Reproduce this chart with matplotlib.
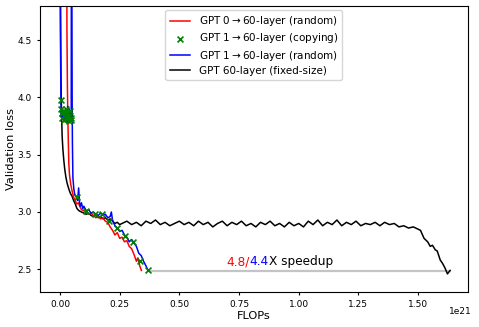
import matplotlib
matplotlib.use("Agg")
import matplotlib.pyplot as plt

# FLOPs (in units of 1e21) and validation loss
black_x = [0.0, 0.002, 0.004, 0.006, 0.009, 0.012, 0.016, 0.02, 0.025, 0.03, 0.037, 0.044,
           0.05, 0.057, 0.064, 0.071, 0.08, 0.09, 0.1, 0.11, 0.12, 0.13, 0.14, 0.15, 0.16,
           0.17, 0.18, 0.19, 0.2, 0.21, 0.22, 0.23, 0.24, 0.25,
           0.26, 0.28, 0.30, 0.32, 0.34, 0.36, 0.38, 0.40, 0.42, 0.44, 0.46, 0.48, 0.50,
           0.52, 0.54, 0.56, 0.58, 0.60, 0.62, 0.64, 0.66, 0.68, 0.70, 0.72, 0.74, 0.76,
           0.78, 0.80, 0.82, 0.84, 0.86, 0.88, 0.90, 0.92, 0.94, 0.96, 0.98, 1.00, 1.02,
           1.04, 1.06, 1.08, 1.10, 1.12, 1.14, 1.16, 1.18, 1.20, 1.22, 1.24, 1.26, 1.28,
           1.30, 1.32, 1.34, 1.36, 1.38, 1.40, 1.42, 1.44, 1.46, 1.48, 1.50, 1.51, 1.525,
           1.54, 1.551, 1.56, 1.572, 1.58, 1.593, 1.603, 1.613, 1.623, 1.634]
black_y = [6.0, 4.8, 4.2, 3.9, 3.66, 3.55, 3.45, 3.37, 3.3, 3.25, 3.2, 3.16,
           3.14, 3.1, 3.07, 3.03, 3.01, 3.0, 2.99, 2.98, 2.99, 2.97, 2.96, 2.97, 2.95,
           2.96, 2.94, 2.95, 2.93, 2.94, 2.92, 2.9, 2.91, 2.89,
           2.90, 2.92, 2.89, 2.91, 2.88, 2.92, 2.90, 2.93, 2.89, 2.91, 2.88, 2.90, 2.92,
           2.89, 2.91, 2.88, 2.92, 2.89, 2.91, 2.87, 2.90, 2.92, 2.88, 2.91, 2.89, 2.92,
           2.88, 2.90, 2.87, 2.91, 2.89, 2.92, 2.88, 2.90, 2.87, 2.91, 2.88, 2.90, 2.87,
           2.92, 2.89, 2.93, 2.88, 2.91, 2.89, 2.93, 2.88, 2.91, 2.89, 2.92, 2.88, 2.90,
           2.89, 2.91, 2.88, 2.91, 2.89, 2.90, 2.87, 2.88, 2.86, 2.87, 2.85, 2.84, 2.77,
           2.74, 2.70, 2.71, 2.67, 2.66, 2.58, 2.55, 2.51, 2.46, 2.49]

red_x = [0.028, 0.029, 0.031, 0.033, 0.035, 0.037, 0.04, 0.045, 0.05, 0.057, 0.064, 0.07,
         0.077, 0.085, 0.09, 0.1, 0.11, 0.12, 0.13, 0.14, 0.15, 0.16, 0.17, 0.18, 0.19,
         0.2, 0.21, 0.22, 0.23, 0.24, 0.25, 0.26, 0.27, 0.28, 0.29, 0.3, 0.31, 0.32,
         0.326, 0.334, 0.341]
red_y = [6.0, 4.6, 4.1, 3.8, 3.6, 3.42, 3.32, 3.24, 3.19, 3.13, 3.1, 3.07,
         3.08, 3.04, 3.02, 3.01, 3.0, 2.98, 2.99, 2.97, 2.95, 2.96, 2.94, 2.95, 2.92,
         2.91, 2.87, 2.84, 2.80, 2.82, 2.77, 2.78, 2.74, 2.75, 2.70, 2.68, 2.63, 2.57,
         2.60, 2.53, 2.49]

blue_x = [0.0, 0.002, 0.004, 0.006, 0.008, 0.011, 0.014, 0.017, 0.02, 0.023, 0.026, 0.029,
          0.032, 0.035, 0.038, 0.041, 0.044, 0.047, 0.048, 0.05, 0.051, 0.052, 0.054, 0.058,
          0.062, 0.066, 0.07, 0.074, 0.078, 0.082, 0.085, 0.09, 0.095, 0.1, 0.11, 0.12,
          0.13, 0.14, 0.15, 0.16, 0.17, 0.18, 0.19, 0.2, 0.21, 0.215, 0.22, 0.23, 0.24,
          0.25, 0.26, 0.27, 0.28, 0.29, 0.3, 0.31, 0.32, 0.33, 0.34, 0.35, 0.36, 0.369]
blue_y = [6.0, 4.5, 3.95, 3.85, 3.9, 3.82, 3.88, 3.8, 3.86, 3.84, 3.9, 3.78,
          3.92, 3.8, 3.9, 3.83, 3.88, 3.8, 6.0, 4.5, 3.9, 3.6, 3.3, 3.2,
          3.15, 3.14, 3.12, 3.1, 3.21, 3.08, 3.05, 3.08, 3.03, 3.05, 3.01, 3.02,
          2.99, 3.0, 2.98, 2.97, 2.99, 2.97, 2.98, 2.95, 2.96, 3.0, 2.93, 2.88, 2.86,
          2.83, 2.84, 2.80, 2.78, 2.74, 2.76, 2.73, 2.70, 2.64, 2.62, 2.57, 2.53, 2.49]

copy_x = [0.003, 0.005, 0.008, 0.010, 0.013, 0.016, 0.018, 0.021, 0.024, 0.027, 0.030,
          0.033, 0.036, 0.039, 0.042, 0.045, 0.048, 0.071, 0.11, 0.147, 0.178, 0.207,
          0.239, 0.272, 0.306, 0.337, 0.369]
copy_y = [3.98, 3.90, 3.86, 3.82, 3.88, 3.84, 3.80, 3.87, 3.83, 3.90, 3.81,
          3.86, 3.79, 3.84, 3.88, 3.82, 3.80, 3.13, 3.01, 2.985, 2.98, 2.92,
          2.86, 2.79, 2.74, 2.57, 2.49]

speedup_y = 2.488

fig = plt.figure(figsize=(4.79, 3.27), dpi=100)
ax = fig.add_axes([0.0835, 0.107, 0.8935, 0.8747])

ax.plot([copy_x[-1], black_x[-1]], [speedup_y, speedup_y], color='#c4c4c4', lw=1.6, zorder=1)
l_black, = ax.plot(black_x, black_y, color='black', lw=1.1, label='GPT 60-layer (fixed-size)')
l_red, = ax.plot(red_x, red_y, color='red', lw=1.1, label='GPT 0$\\rightarrow$60-layer (random)')
l_blue, = ax.plot(blue_x, blue_y, color='blue', lw=1.1, label='GPT 1$\\rightarrow$60-layer (random)')
s_copy = ax.scatter(copy_x, copy_y, marker='x', color='green', s=18, lw=1.2, zorder=5,
                    label='GPT 1$\\rightarrow$60-layer (copying)')

ax.set_xlim(-0.0838, 1.709)
ax.set_ylim(2.302, 4.797)
ax.set_xticks([0.0, 0.25, 0.5, 0.75, 1.0, 1.25, 1.5])
ax.set_xticklabels(['0.00', '0.25', '0.50', '0.75', '1.00', '1.25', '1.50'])
ax.set_yticks([2.5, 3.0, 3.5, 4.0, 4.5])
ax.tick_params(labelsize=6.5, length=2.5)
ax.set_xlabel('FLOPs', fontsize=8.2, labelpad=1)
ax.set_ylabel('Validation loss', fontsize=8.2, labelpad=1)
ax.text(1.009, -0.052, '1e21', transform=ax.transAxes, fontsize=6.5, ha='right', va='top')

t1 = ax.text(0.695, 2.535, '4.8/', color='red', fontsize=8.7, va='baseline')
t2 = ax.annotate('4.4', xy=(1, 0), xycoords=t1, color='blue', fontsize=8.7, va='bottom')
ax.annotate('X speedup', xy=(1, 0), xycoords=t2, color='black', fontsize=8.7, va='bottom')

ax.legend(handles=[l_red, s_copy, l_blue, l_black], loc='upper center', fontsize=7.5,
          scatterpoints=1, borderaxespad=0.4, labelspacing=0.3)

fig.savefig('out.png', dpi=100)
